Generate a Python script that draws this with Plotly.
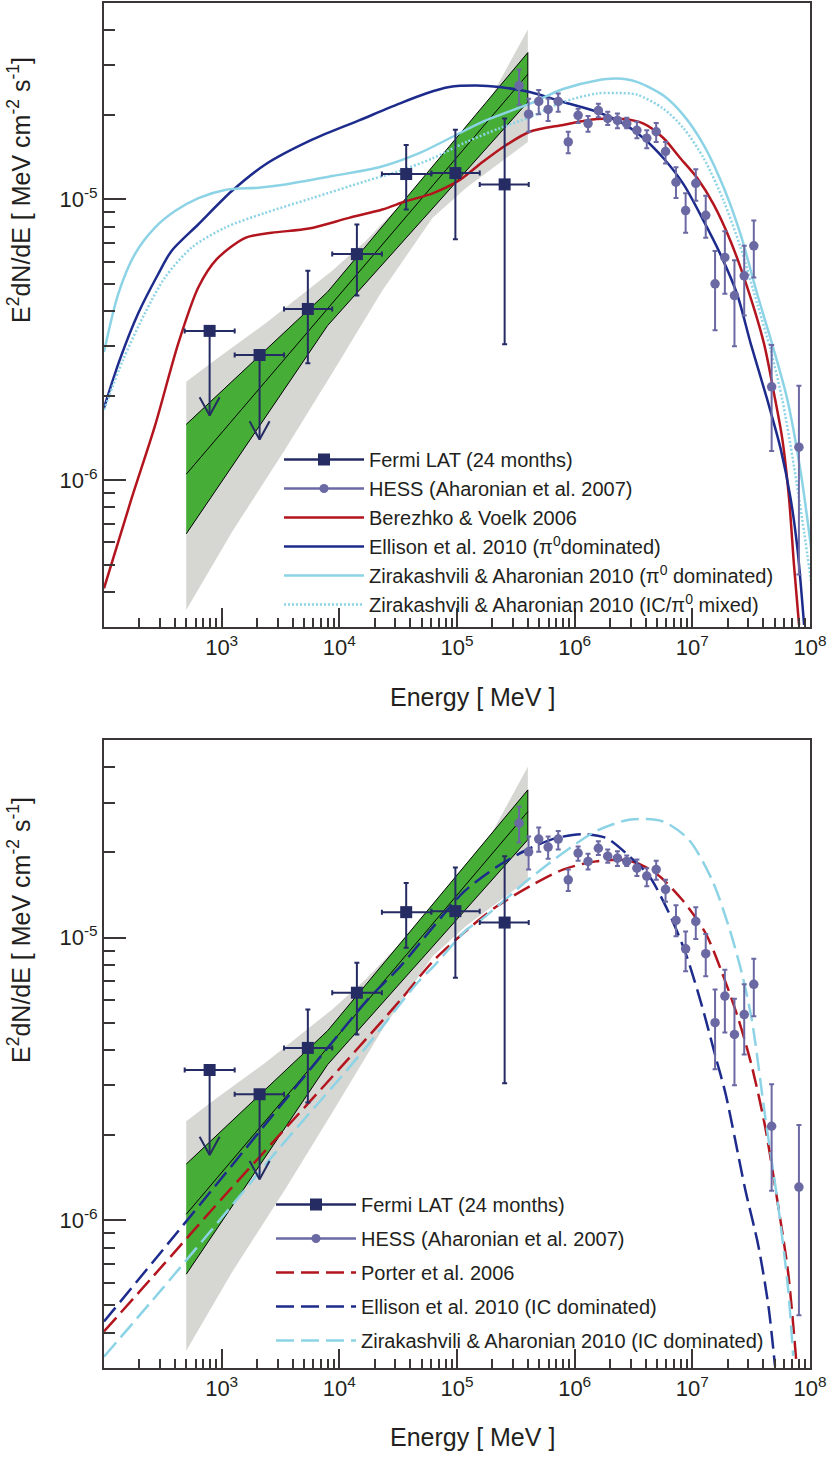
import numpy as np
import plotly.graph_objects as go

# ---------------- data ----------------
# Fermi LAT 24 months (MeV, MeV cm^-2 s^-1)
fermi_E = [790, 2100, 5400, 14100, 37000, 96900, 254000]
fermi_E_lo = [485, 1290, 3390, 8700, 23000, 60500, 156000]
fermi_E_hi = [1290, 3390, 8700, 23000, 60500, 156000, 407000]
fermi_F = [3.40e-6, 2.79e-6, 4.07e-6, 6.38e-6, 1.23e-5, 1.24e-5, 1.13e-5]
fermi_F_hi = [None, None, 5.57e-6, 8.14e-6, 1.56e-5, 1.77e-5, 1.94e-5]
fermi_F_lo = [None, None, 2.61e-6, 4.54e-6, 9.20e-6, 7.21e-6, 3.05e-6]
fermi_is_ul = [True, True, False, False, False, False, False]

# HESS (Aharonian et al. 2007)
hess_E = [3.37e5, 4.06e5, 4.95e5, 5.95e5, 7.25e5, 8.82e5, 1.07e6, 1.30e6, 1.59e6,
          1.91e6, 2.31e6, 2.77e6, 3.38e6, 4.10e6, 4.93e6, 5.92e6, 7.26e6, 8.77e6,
          1.07e7, 1.30e7, 1.56e7, 1.89e7, 2.28e7, 2.76e7, 3.33e7, 4.72e7, 8.05e7]
hess_F = [2.54e-5, 2.01e-5, 2.23e-5, 2.09e-5, 2.23e-5, 1.60e-5, 1.99e-5, 1.86e-5, 2.07e-5,
          1.94e-5, 1.91e-5, 1.86e-5, 1.76e-5, 1.65e-5, 1.74e-5, 1.48e-5, 1.15e-5, 9.12e-6,
          1.14e-5, 8.77e-6, 5.00e-6, 6.21e-6, 4.54e-6, 5.34e-6, 6.83e-6, 2.15e-6, 1.31e-6]
hess_F_hi = [2.90e-5, 2.28e-5, 2.45e-5, 2.28e-5, 2.38e-5, 1.74e-5, 2.10e-5, 1.98e-5, 2.19e-5,
             2.05e-5, 2.02e-5, 1.95e-5, 1.89e-5, 1.76e-5, 1.87e-5, 1.60e-5, 1.30e-5, 1.05e-5,
             1.28e-5, 1.03e-5, 6.55e-6, 7.70e-6, 6.07e-6, 6.83e-6, 8.41e-6, 3.03e-6, 2.17e-6]
hess_F_lo = [2.17e-5, 1.74e-5, 2.01e-5, 1.90e-5, 2.05e-5, 1.46e-5, 1.87e-5, 1.74e-5, 1.96e-5,
             1.84e-5, 1.79e-5, 1.79e-5, 1.65e-5, 1.52e-5, 1.60e-5, 1.34e-5, 1.01e-5, 7.60e-6,
             9.89e-6, 7.30e-6, 3.42e-6, 4.61e-6, 3.00e-6, 3.86e-6, 5.27e-6, 1.27e-6, 4.61e-7]

# Fermi best-fit butterfly (statistical) and systematic band
bf_E = [500, 7940, 400000]
bf_upper = [1.58e-6, 4.68e-6, 3.33e-5]
bf_lower = [6.44e-7, 3.55e-6, 2.22e-5]
bf_center_E = [500, 400000]
bf_center = [1.05e-6, 2.79e-5]

sys_upper_E = [500, 879, 2350, 8690, 16700, 62100, 166000, 400000]
sys_upper = [2.24e-6, 2.68e-6, 3.61e-6, 5.57e-6, 7.11e-6, 1.26e-5, 2.05e-5, 4.02e-5]
sys_lower_E = [500, 1220, 3480, 8690, 23200, 62100, 120000, 400000]
sys_lower = [3.45e-7, 6.53e-7, 1.29e-6, 2.40e-6, 4.73e-6, 8.59e-6, 1.10e-5, 1.60e-5]

# Top panel models
bv06_E = [100, 171, 271, 428, 634, 908, 1590, 2670, 5510, 12100, 23200, 36800, 62100, 105000,
          166000, 262000, 415000, 798000, 1.54e6, 2.59e6, 3.85e6, 5.70e6, 7.91e6, 1.10e7,
          1.52e7, 2.11e7, 2.93e7, 4.06e7, 4.94e7, 5.82e7, 6.64e7, 7.31e7, 8.07e7]
bv06_F = [4.12e-7, 8.57e-7, 1.56e-6, 3.07e-6, 4.86e-6, 6.12e-6, 7.29e-6, 7.60e-6, 7.87e-6,
          8.59e-6, 9.20e-6, 9.84e-6, 1.05e-5, 1.17e-5, 1.36e-5, 1.56e-5, 1.74e-5, 1.84e-5,
          1.93e-5, 1.93e-5, 1.86e-5, 1.65e-5, 1.40e-5, 1.19e-5, 9.57e-6, 7.11e-6, 4.86e-6,
          3.07e-6, 2.04e-6, 1.40e-6, 8.57e-7, 4.98e-7, 3.05e-7]

ell_pi_E = [100, 136, 195, 289, 375, 634, 1220, 2350, 5870, 14700, 32300, 54500, 86100, 146000,
            230000, 415000, 798000, 1.54e6, 2.59e6, 3.85e6, 5.69e6, 8.43e6, 1.25e7, 1.73e7,
            2.40e7, 3.13e7, 4.34e7, 5.64e7, 6.85e7, 7.82e7, 8.91e7]
ell_pi_F = [1.81e-6, 2.68e-6, 3.92e-6, 5.42e-6, 6.55e-6, 8.15e-6, 1.07e-5, 1.33e-5, 1.63e-5,
            1.91e-5, 2.19e-5, 2.38e-5, 2.51e-5, 2.54e-5, 2.51e-5, 2.41e-5, 2.22e-5, 2.05e-5,
            1.86e-5, 1.65e-5, 1.40e-5, 1.13e-5, 8.36e-6, 6.38e-6, 4.60e-6, 3.07e-6, 1.93e-6,
            1.29e-6, 8.57e-7, 5.70e-7, 3.05e-7]

za_pi_E = [100, 132, 183, 271, 401, 634, 1070, 2060, 3480, 8690, 21800, 47800, 91800, 166000,
           415000, 798000, 1.54e6, 2.28e6, 3.37e6, 5.69e6, 8.43e6, 1.25e7, 1.85e7, 2.57e7,
           3.56e7, 4.94e7, 6.43e7, 8.36e7, 1.05e8]
za_pi_F = [2.86e-6, 4.60e-6, 6.38e-6, 7.93e-6, 9.08e-6, 1.01e-5, 1.08e-5, 1.10e-5, 1.13e-5,
           1.21e-5, 1.30e-5, 1.46e-5, 1.67e-5, 1.89e-5, 2.19e-5, 2.47e-5, 2.65e-5, 2.69e-5,
           2.62e-5, 2.34e-5, 1.99e-5, 1.56e-5, 1.10e-5, 7.50e-6, 4.60e-6, 2.90e-6, 1.93e-6,
           1.06e-6, 5.26e-7]

za_mix_E = [100, 145, 222, 330, 556, 1070, 2350, 5870, 16700, 32300, 62100, 120000, 230000,
            415000, 798000, 1.54e6, 2.28e6, 3.37e6, 5.69e6, 8.43e6, 1.25e7, 1.85e7, 2.57e7,
            3.56e7, 4.63e7, 5.82e7, 7.31e7, 8.91e7, 1.02e8]
za_mix_F = [1.78e-6, 2.68e-6, 3.92e-6, 5.27e-6, 6.73e-6, 7.93e-6, 8.95e-6, 1.01e-5, 1.16e-5,
            1.26e-5, 1.40e-5, 1.60e-5, 1.79e-5, 1.96e-5, 2.22e-5, 2.38e-5, 2.39e-5, 2.36e-5,
            2.10e-5, 1.79e-5, 1.40e-5, 9.84e-6, 6.73e-6, 4.25e-6, 2.90e-6, 1.93e-6, 1.12e-6,
            6.53e-7, 4.36e-7]

# Bottom panel models
porter_E = [100, 316, 1000, 3160, 10000, 33300, 63800, 148000, 218000, 417000, 796000, 1.52e6,
            2.91e6, 4.89e6, 8.20e6, 1.29e7, 1.79e7, 2.47e7, 3.20e7, 4.15e7, 5.37e7, 6.52e7, 7.66e7]
porter_F = [4.04e-7, 6.92e-7, 1.19e-6, 2.02e-6, 3.43e-6, 6.03e-6, 8.32e-6, 1.14e-5, 1.29e-5,
            1.52e-5, 1.74e-5, 1.86e-5, 1.87e-5, 1.69e-5, 1.36e-5, 1.04e-5, 7.50e-6, 5.13e-6,
            3.51e-6, 2.15e-6, 1.12e-6, 6.53e-7, 3.14e-7]

ell_ic_E = [100, 316, 1000, 3160, 10000, 17500, 33300, 63800, 114000, 218000, 417000, 701000,
            1.17e6, 1.85e6, 2.91e6, 4.30e6, 6.34e6, 8.75e6, 1.21e7, 1.57e7, 1.91e7, 2.31e7,
            2.81e7, 3.64e7, 4.43e7, 5.04e7]
ell_ic_F = [4.38e-7, 7.85e-7, 1.41e-6, 2.54e-6, 4.57e-6, 6.04e-6, 7.94e-6, 1.10e-5, 1.45e-5,
            1.78e-5, 2.07e-5, 2.25e-5, 2.32e-5, 2.25e-5, 1.94e-5, 1.65e-5, 1.22e-5, 8.83e-6,
            5.71e-6, 3.81e-6, 2.82e-6, 1.93e-6, 1.29e-6, 8.11e-7, 4.98e-7, 3.05e-7]

za_ic_E = [100, 316, 1000, 3160, 10000, 17500, 46100, 63800, 122000, 158000, 417000, 796000,
           1.52e6, 2.91e6, 5.56e6, 9.33e6, 1.47e7, 2.03e7, 2.63e7, 3.20e7, 4.15e7, 5.37e7,
           6.52e7, 7.19e7]
za_ic_F = [3.29e-7, 5.75e-7, 1.02e-6, 1.82e-6, 3.16e-6, 4.17e-6, 6.92e-6, 7.94e-6, 1.07e-5,
           1.15e-5, 1.62e-5, 1.99e-5, 2.38e-5, 2.61e-5, 2.58e-5, 2.22e-5, 1.60e-5, 1.10e-5,
           7.50e-6, 5.13e-6, 2.34e-6, 1.12e-6, 5.70e-7, 3.31e-7]

# Axis ticks
x_tickvals = [1e3, 1e4, 1e5, 1e6, 1e7, 1e8]
x_ticktext = ["10<sup>3</sup>", "10<sup>4</sup>", "10<sup>5</sup>", "10<sup>6</sup>",
              "10<sup>7</sup>", "10<sup>8</sup>"]
y_tickvals = [1e-6, 1e-5]
y_ticktext = ["10<sup>-6</sup>", "10<sup>-5</sup>"]

# ---------------- style ----------------
FONT = "Liberation Sans, Arial, Helvetica, sans-serif"
TXT = "#231F20"
AX = "#3A3636"
C_FERMI = "#252B63"
C_HESS = "#6B69A3"
C_RED = "#B3151E"
C_BLUE = "#1D2B8C"
C_LBLUE = "#8DD3E6"
C_GREEN = "#46AE36"
C_GRAY = "#D6D6D2"
UL_FACTOR = 0.5          # arrow length of upper limits
LW = 2.5

W, H = 830, 1461
ML, MR, MT, MB = 104, 20, 3, 93
PW, PH = W - ML - MR, H - MT - MB


def px(xpix):
    return (xpix - ML) / PW


def py(ypix):
    return (H - MB - ypix) / PH


fig = go.Figure()


def add(tr, panel):
    if panel == 2:
        tr.update(xaxis="x2", yaxis="y2", legend="legend2")
    fig.add_trace(tr)


fE = np.array(fermi_E, float)
fF = np.array(fermi_F, float)
ul = np.array(fermi_is_ul)
det = ~ul
fhi = np.array([v if v is not None else np.nan for v in fermi_F_hi], float)
flo = np.array([v if v is not None else np.nan for v in fermi_F_lo], float)
fElo = np.array(fermi_E_lo, float)
fEhi = np.array(fermi_E_hi, float)

hE = np.array(hess_E)
hF = np.array(hess_F)
hhi = np.array(hess_F_hi)
hlo = np.array(hess_F_lo)

for panel in (1, 2):
    grp = (panel == 2)
    # systematic band
    add(go.Scatter(x=sys_upper_E + sys_lower_E[::-1], y=sys_upper + sys_lower[::-1],
                   fill="toself", fillcolor=C_GRAY, mode="lines", line=dict(width=0),
                   hoverinfo="skip", showlegend=False), panel)
    # statistical butterfly
    add(go.Scatter(x=bf_E + bf_E[::-1], y=bf_upper + bf_lower[::-1],
                   fill="toself", fillcolor=C_GREEN, mode="lines",
                   line=dict(color="black", width=1), hoverinfo="skip", showlegend=False), panel)
    add(go.Scatter(x=bf_center_E, y=bf_center, mode="lines",
                   line=dict(color="black", width=1), hoverinfo="skip", showlegend=False), panel)

    # legend-only entries for the data
    add(go.Scatter(x=[None], y=[None], mode="lines+markers", name="Fermi LAT (24 months)",
                   line=dict(color=C_FERMI, width=LW), marker=dict(symbol="square", size=12, color=C_FERMI),
                   legendgroup="g1" if grp else None), panel)
    add(go.Scatter(x=[None], y=[None], mode="lines+markers", name="HESS (Aharonian et al. 2007)",
                   line=dict(color=C_HESS, width=LW), marker=dict(symbol="circle", size=9, color=C_HESS),
                   legendgroup="g2" if grp else None), panel)

    if panel == 1:
        models = [
            (bv06_E, bv06_F, C_RED, "solid", "Berezhko &amp; Voelk 2006"),
            (ell_pi_E, ell_pi_F, C_BLUE, "solid", "Ellison et al. 2010 (\u03c0<sup>0</sup>dominated)"),
            (za_pi_E, za_pi_F, C_LBLUE, "solid", "Zirakashvili &amp; Aharonian 2010 (\u03c0<sup>0</sup> dominated)"),
            (za_mix_E, za_mix_F, C_LBLUE, "2px,2px", "Zirakashvili &amp; Aharonian 2010 (IC/\u03c0<sup>0</sup> mixed)"),
        ]
    else:
        models = [
            (porter_E, porter_F, C_RED, "18px,7px", "Porter et al. 2006"),
            (ell_ic_E, ell_ic_F, C_BLUE, "18px,7px", "Ellison et al. 2010 (IC dominated)"),
            (za_ic_E, za_ic_F, C_LBLUE, "18px,7px", "Zirakashvili &amp; Aharonian 2010 (IC dominated)"),
        ]
    for k, (mx, my, col, dash, name) in enumerate(models):
        add(go.Scatter(x=mx, y=my, mode="lines", name=name,
                       line=dict(color=col, width=LW, dash=dash, shape="spline", smoothing=0.8),
                       legendgroup=("m%d" % k) if grp else None), panel)

    # HESS points
    add(go.Scatter(x=hE, y=hF, mode="markers", showlegend=False,
                   marker=dict(symbol="circle", size=9.5, color=C_HESS),
                   error_y=dict(type="data", symmetric=False, array=hhi - hF, arrayminus=hF - hlo,
                                color=C_HESS, thickness=2, width=2.5)), panel)

    # Fermi detections
    add(go.Scatter(x=fE[det], y=fF[det], mode="markers", showlegend=False,
                   marker=dict(symbol="square", size=12, color=C_FERMI),
                   error_y=dict(type="data", symmetric=False, array=(fhi - fF)[det],
                                arrayminus=(fF - flo)[det], color=C_FERMI, thickness=2, width=2.5),
                   error_x=dict(type="data", symmetric=False, array=(fEhi - fE)[det],
                                arrayminus=(fE - fElo)[det], color=C_FERMI, thickness=2, width=2.5)),
        panel)
    # Fermi upper limits: marker + horizontal bin bar
    add(go.Scatter(x=fE[ul], y=fF[ul], mode="markers", showlegend=False,
                   marker=dict(symbol="square", size=12, color=C_FERMI),
                   error_x=dict(type="data", symmetric=False, array=(fEhi - fE)[ul],
                                arrayminus=(fE - fElo)[ul], color=C_FERMI, thickness=2, width=2.5)),
        panel)
    # Upper-limit arrows
    ax_, ay_ = [], []
    for e, f in zip(fE[ul], fF[ul]):
        tip = f * UL_FACTOR
        ax_ += [e, e, None, e * 10 ** -0.085, e, e * 10 ** 0.085, None]
        ay_ += [f, tip, None, tip * 10 ** 0.065, tip, tip * 10 ** 0.065, None]
    add(go.Scatter(x=ax_, y=ay_, mode="lines", showlegend=False,
                   line=dict(color=C_FERMI, width=2), hoverinfo="skip"), panel)

# ---------------- axes ----------------
x_minor = [m * 10 ** k for k in range(2, 8) for m in range(2, 10)]
y_minor = [m * 10 ** k for k in (-7, -6, -5) for m in range(2, 10)]
YR = [np.log10(3.0e-7), np.log10(5.0e-5)]


def xaxis(dom_anchor):
    return dict(type="log", range=[2, 8], anchor=dom_anchor, domain=[0, 1],
                showline=True, linewidth=2, linecolor=AX, mirror=True,
                ticks="inside", ticklen=19, tickwidth=1.5, tickcolor=AX,
                tickvals=x_tickvals, ticktext=x_ticktext,
                tickfont=dict(size=22, color=TXT, family=FONT),
                minor=dict(ticks="inside", ticklen=9, tickwidth=1.5, tickcolor=AX,
                           tickvals=x_minor, showgrid=False),
                showgrid=False, zeroline=False, automargin=False)


def yaxis(anchor, dom):
    return dict(type="log", range=YR, anchor=anchor, domain=dom,
                showline=True, linewidth=2, linecolor=AX, mirror=True,
                ticks="inside", ticklen=22, tickwidth=1.5, tickcolor=AX,
                tickvals=y_tickvals, ticktext=y_ticktext,
                tickfont=dict(size=22, color=TXT, family=FONT),
                minor=dict(ticks="inside", ticklen=11, tickwidth=1.5, tickcolor=AX,
                           tickvals=y_minor, showgrid=False),
                showgrid=False, zeroline=False, automargin=False)


ytitle = "E<sup>2</sup>dN/dE [ MeV cm<sup>-2</sup> s<sup>-1</sup>]"
xtitle = "Energy [ MeV ]"
annotations = []
for yc, xc_y in ((190, 697), (930, 1437)):
    annotations.append(dict(text=ytitle, xref="paper", yref="paper", x=px(19), y=py(yc),
                            xanchor="center", yanchor="middle", textangle=-90, showarrow=False,
                            font=dict(size=25, color=TXT, family=FONT)))
    annotations.append(dict(text=xtitle, xref="paper", yref="paper", x=px(472), y=py(xc_y),
                            xanchor="center", yanchor="middle", showarrow=False,
                            font=dict(size=25, color=TXT, family=FONT)))

legend_common = dict(xanchor="left", yanchor="top", bgcolor="rgba(0,0,0,0)", borderwidth=0,
                     font=dict(size=20, color=TXT, family=FONT), itemwidth=80)

fig.update_layout(
    width=W, height=H, margin=dict(l=ML, r=MR, t=MT, b=MB),
    paper_bgcolor="white", plot_bgcolor="white",
    font=dict(family=FONT, color=TXT),
    xaxis=xaxis("y"), yaxis=yaxis("x", [py(627), 1.0]),
    xaxis2=xaxis("y2"), yaxis2=yaxis("x2", [0.0, py(740)]),
    legend=dict(**legend_common, x=px(279), y=py(440), tracegroupgap=0),
    legend2=dict(**legend_common, x=px(271), y=py(1185), tracegroupgap=5),
    annotations=annotations,
    showlegend=True,
)

fig.write_html("out.html", config={"displayModeBar": False},
               post_script="document.body.style.margin='0px';document.body.style.padding='0px';")
